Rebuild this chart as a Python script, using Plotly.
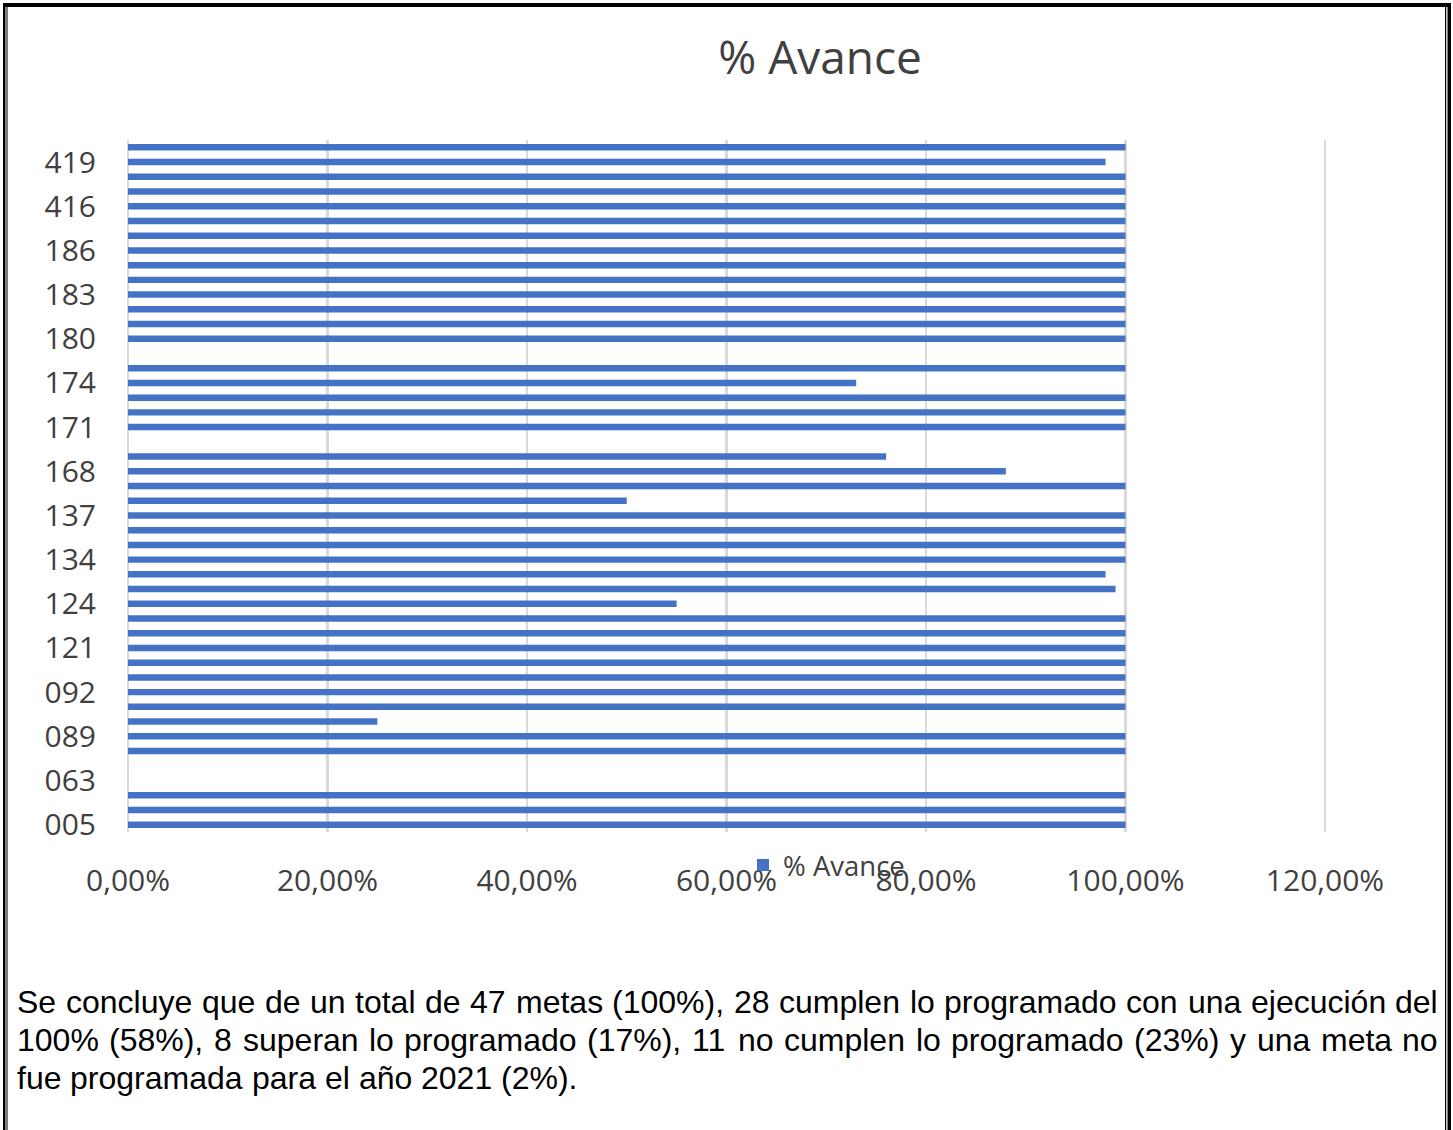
import plotly.graph_objects as go

# ---------------- data ----------------
# categories listed bottom -> top (only every third code is printed on the axis)
categories = ["005", "060", "062", "063", "064", "088", "089", "090", "091", "092",
              "093", "120", "121", "122", "123", "124", "125", "133", "134", "135",
              "136", "137", "138", "167", "168", "169", "170", "171", "172", "173",
              "174", "175", "179", "180", "181", "182", "183", "184", "185", "186",
              "187", "415", "416", "417", "418", "419", "420"]
avance = [1.00, 1.00, 1.00, 0.0, 0.0, 1.00, 1.00, 0.25, 1.00, 1.00,
          1.00, 1.00, 1.00, 1.00, 1.00, 0.55, 0.99, 0.98, 1.00, 1.00,
          1.00, 1.00, 0.50, 1.00, 0.88, 0.76, 0.0, 1.00, 1.00, 1.00,
          0.73, 1.00, 0.0, 1.00, 1.00, 1.00, 1.00, 1.00, 1.00, 1.00,
          1.00, 1.00, 1.00, 1.00, 1.00, 0.98, 1.00]
shown_labels = ["005", "063", "089", "092", "121", "124", "134", "137", "168",
                "171", "174", "180", "183", "186", "416", "419"]
x_ticks = [0, 0.2, 0.4, 0.6, 0.8, 1.0, 1.2]
series_name = "% Avance"
title_text = "% Avance"
paragraph_lines = [
    "Se concluye que de un total de 47 metas (100%), 28 cumplen lo programado con una ejecución del",
    "100% (58%), 8 superan lo programado (17%), 11 no cumplen lo programado (23%) y una meta no",
    "fue programada para el año 2021 (2%).",
]

# ---------------- layout geometry ----------------
W, H = 1453, 1130
L, T = 126, 140              # plot origin (pixels)
PW, PH = 1201, 692
R, B = W - L - PW, H - T - PH
TEXT = "#404040"
BAR = "#4472C4"
GRID = "#D9D9D9"


def px(x):  # page pixel -> paper x
    return (x - L) / PW


def py(y):  # page pixel -> paper y
    return (T + PH - y) / PH


fig = go.Figure()
fig.add_trace(go.Bar(
    x=avance, y=categories, orientation="h", name=series_name,
    marker=dict(color=BAR, line=dict(width=0)), showlegend=True,
))

fig.update_layout(
    width=W, height=H,
    margin=dict(l=L, r=R, t=T, b=B, pad=0),
    paper_bgcolor="white", plot_bgcolor="white",
    separators=",.",
    bargap=0.56,
    font=dict(family="Open Sans", color=TEXT),
    title=dict(text=title_text, x=820 / W, xref="container", xanchor="center",
               y=1 - 58 / H, yref="container", yanchor="middle",
               font=dict(family="Open Sans", size=46, color=TEXT)),
    showlegend=True,
    legend=dict(orientation="h", x=px(743), xanchor="left", y=py(865), yanchor="middle",
                font=dict(family="Open Sans", size=27.5, color=TEXT),
                bgcolor="rgba(0,0,0,0)", itemwidth=30),
    xaxis=dict(range=[-0.002, 1.202], tickvals=x_ticks, tickformat=".2%",
               showgrid=True, gridcolor=GRID, gridwidth=2.5,
               zeroline=False, showline=False, ticks="", ticklabelstandoff=28,
               tickfont=dict(family="Open Sans", size=30, color=TEXT), fixedrange=True),
    yaxis=dict(type="category", categoryorder="array", categoryarray=categories,
               tickmode="array", tickvals=shown_labels, ticktext=shown_labels,
               showgrid=False, zeroline=False, showline=False, ticks="",
               ticklabelstandoff=29,
               tickfont=dict(family="Open Sans", size=30, color=TEXT), fixedrange=True),
)

# ---------------- page frame (double border of the document table) ----------------
frame = [
    (3, 3, 1451, 7),          # top thick line
    (3, 3, 5.5, 1130),        # left outer thick
    (6.5, 7, 7.5, 1130),      # left inner thin
    (1445, 7, 1446.2, 1130),  # right inner thin
    (1447.5, 3, 1451, 1130),  # right outer thick
]
for x0, y0, x1, y1 in frame:
    fig.add_shape(type="rect", xref="paper", yref="paper",
                  x0=px(x0), x1=px(x1), y0=py(y1), y1=py(y0),
                  fillcolor="black", line=dict(width=0), layer="above")

# ---------------- paragraph below the chart (justified, Arial metrics) ----------------
AW = {c: 556 for c in "abdeghnopqu0123456789óñ"}
AW.update({"c": 500, "f": 278, "i": 222, "j": 222, "k": 500, "l": 222, "m": 833,
           "r": 333, "s": 500, "t": 278, "v": 500, "w": 722, "x": 500, "y": 500,
           "z": 500, "S": 667, "%": 889, "(": 333, ")": 333, ",": 278, ".": 278,
           " ": 278})
FS = 32
LEFT, RIGHT = 16, 1437
line_y = [1002, 1040, 1078]


def wlen(word):
    return sum(AW.get(ch, 556) for ch in word) * FS / 1000.0


for i, (line, yy) in enumerate(zip(paragraph_lines, line_y)):
    words = line.split(" ")
    widths = [wlen(w) for w in words]
    if i < len(paragraph_lines) - 1:
        gap = (RIGHT - LEFT - sum(widths)) / (len(words) - 1)
    else:
        gap = AW[" "] * FS / 1000.0
    xx = LEFT
    for w, wd in zip(words, widths):
        fig.add_annotation(text=w, xref="paper", yref="paper", x=px(xx), y=py(yy),
                           xanchor="left", yanchor="middle", showarrow=False,
                           borderpad=0,
                           font=dict(family="Liberation Sans", size=FS, color="black"))
        xx += wd + gap

fig.write_html(
    "out.html",
    config={"displayModeBar": False, "staticPlot": True},
    post_script="document.body.style.margin='0';document.body.style.overflow='hidden';",
)
